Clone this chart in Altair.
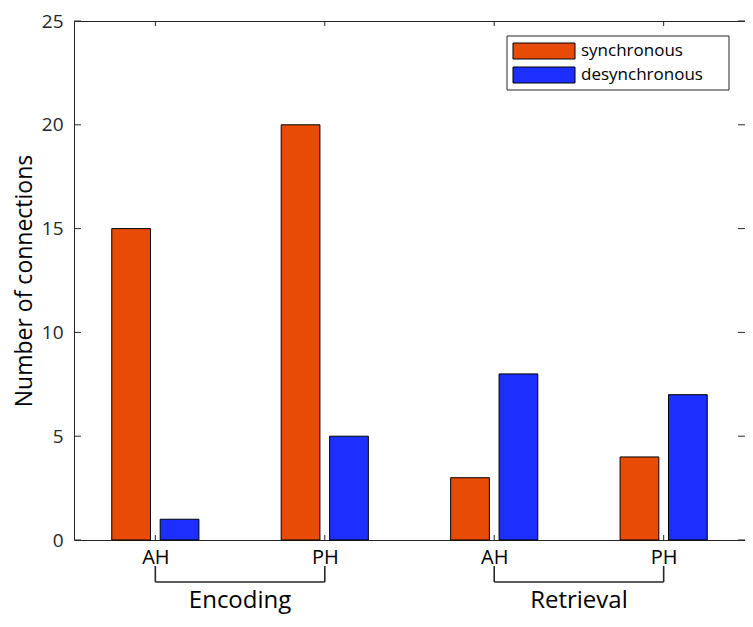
import json
import altair as alt
import pandas as pd

# ---- data ----
categories = ["AH", "PH", "AH", "PH"]
phases = ["Encoding", "Encoding", "Retrieval", "Retrieval"]
series = ["synchronous", "desynchronous"]
sync_values = [15, 20, 3, 4]
desync_values = [1, 5, 8, 7]
y_ticks = [0, 5, 10, 15, 20, 25]
colors = ["#E84B05", "#1C2FFF"]

# ---- layout / style ----
W, H = 671, 519
FONT = "Open Sans"
INK = "#262626"
GROUP_OFFSET = 0.1429  # MATLAB grouped-bar offset
HALF_W = 0.1143        # half bar width

rows = []
for i, cat in enumerate(categories):
    pos = i + 1
    for s, vals, sign in ((series[0], sync_values, -1), (series[1], desync_values, 1)):
        c = pos + sign * GROUP_OFFSET
        rows.append({"pos": pos, "cat": cat, "series": s, "value": vals[i],
                     "x0": c - HALF_W, "x1": c + HALF_W})
bars_df = pd.DataFrame(rows)

positions = list(range(1, len(categories) + 1))
xticks_df = pd.DataFrame({"p": positions})
yticks_df = pd.DataFrame({"v": y_ticks})

groups = []
for ph in dict.fromkeys(phases):
    idx = [i + 1 for i, p in enumerate(phases) if p == ph]
    groups.append({"phase": ph, "start": min(idx), "end": max(idx),
                   "mid": (min(idx) + max(idx)) / 2})
br_df = pd.DataFrame(groups)

x_scale = alt.Scale(domain=[0.52, 4.48], nice=False, zero=False)
y_scale = alt.Scale(domain=[0, 25], nice=False)
color_scale = alt.Scale(domain=series, range=colors)

label_expr = json.dumps(categories) + "[datum.value - 1]"

x_axis = alt.Axis(values=positions, labelExpr=label_expr, title=None)
y_axis = alt.Axis(values=y_ticks, title="Number of connections")


def X(field):
    return alt.X(field, scale=x_scale, axis=x_axis)


def Y(field):
    return alt.Y(field, scale=y_scale, axis=y_axis)


bars = alt.Chart(bars_df).mark_bar(stroke="black", strokeWidth=1).encode(
    x=X("x0:Q"), x2="x1:Q",
    y=Y("value:Q"), y2=alt.datum(0),
    color=alt.Color("series:N", scale=color_scale, legend=None),
)

tick_style = dict(color=INK, strokeWidth=1)
yt_left = alt.Chart(yticks_df).mark_rule(**tick_style).encode(
    y=Y("v:Q"), x=alt.value(0), x2=alt.value(7))
yt_right = alt.Chart(yticks_df).mark_rule(**tick_style).encode(
    y=Y("v:Q"), x=alt.value(W - 7), x2=alt.value(W))
xt_bottom = alt.Chart(xticks_df).mark_rule(**tick_style).encode(
    x=X("p:Q"), y=alt.value(H - 5), y2=alt.value(H))
xt_top = alt.Chart(xticks_df).mark_rule(**tick_style).encode(
    x=X("p:Q"), y=alt.value(0), y2=alt.value(5))

br_style = dict(color=INK, strokeWidth=1.6)
leg_l = alt.Chart(br_df).mark_rule(**br_style).encode(
    x=X("start:Q"), y=alt.value(H + 26), y2=alt.value(H + 42))
leg_r = alt.Chart(br_df).mark_rule(**br_style).encode(
    x=X("end:Q"), y=alt.value(H + 26), y2=alt.value(H + 42))
br_h = alt.Chart(br_df).mark_rule(**br_style).encode(
    x=X("start:Q"), x2="end:Q", y=alt.value(H + 42))
br_txt = alt.Chart(br_df).mark_text(fontSize=24, font=FONT, color="black",
                                    baseline="alphabetic", align="center").encode(
    x=X("mid:Q"), y=alt.value(H + 68), text="phase:N")

# ---- legend (drawn as marks, placed inside the plot's top-right) ----
LX0, LX1, LY0, LY1 = 433, 655, 15, 69
SW_X0, SW_X1, SW_H, ROW0, ROW_STEP = 439, 501, 16, 30, 24
legend_layers = [
    alt.Chart(pd.DataFrame({"k": [0]})).mark_rect(
        fill="white", stroke=INK, strokeWidth=1).encode(
        x=alt.value(LX0), x2=alt.value(LX1), y=alt.value(LY0), y2=alt.value(LY1))
]
for i, s in enumerate(series):
    d = pd.DataFrame({"series": [s]})
    yc = ROW0 + i * ROW_STEP
    legend_layers.append(
        alt.Chart(d).mark_rect(stroke="black", strokeWidth=1).encode(
            x=alt.value(SW_X0), x2=alt.value(SW_X1),
            y=alt.value(yc - SW_H / 2), y2=alt.value(yc + SW_H / 2),
            color=alt.Color("series:N", scale=color_scale, legend=None)))
    legend_layers.append(
        alt.Chart(d).mark_text(align="left", baseline="middle", fontSize=17,
                               font=FONT, color="black").encode(
            x=alt.value(SW_X1 + 6), y=alt.value(yc), text="series:N"))

chart = alt.layer(bars, yt_left, yt_right, xt_bottom, xt_top,
                  leg_l, leg_r, br_h, br_txt, *legend_layers).properties(
    width=W, height=H,
    autosize=alt.AutoSizeParams(type="none"),
    padding={"left": 66, "top": 13, "right": 0, "bottom": 74},
).configure(
    font=FONT,
    view=alt.ViewConfig(stroke=INK, strokeWidth=1),
    axisX=alt.AxisConfig(ticks=False, domain=False, grid=False,
                         labelFontSize=20, labelPadding=7, labelColor="black",
                         labelFont=FONT),
    axisY=alt.AxisConfig(ticks=False, domain=False, grid=False,
                         labelFontSize=19, labelPadding=11, labelColor=INK,
                         labelFont=FONT, titleFont=FONT, titleFontSize=23,
                         titleFontWeight="normal", titleColor="black",
                         titlePadding=5),
)

chart.save("out.html", embed_options={"renderer": "svg", "actions": False})
